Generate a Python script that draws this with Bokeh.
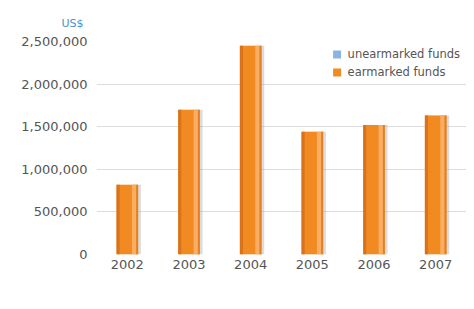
from bokeh.plotting import figure
from bokeh.models import ColumnDataSource, Legend, LegendItem, NumeralTickFormatter, FactorRange
from bokeh.transform import dodge
from bokeh.embed import file_html
from bokeh.resources import INLINE

years = ["2002", "2003", "2004", "2005", "2006", "2007"]
earmarked = [820000, 1700000, 2450000, 1440000, 1520000, 1630000]
unearmarked = [0, 0, 0, 0, 0, 0]
y_ticks = [0, 500000, 1000000, 1500000, 2000000, 2500000]

src = ColumnDataSource(dict(year=years, earmarked=earmarked, unearmarked=unearmarked))

p = figure(x_range=FactorRange(*years), y_range=(0, 2500000), width=466, height=309,
           output_backend="svg", toolbar_location=None,
           min_border_left=96, min_border_right=0, min_border_top=41, min_border_bottom=55)
p.outline_line_color = None
p.background_fill_color = "white"
p.border_fill_color = "white"

p.title.text = "US$"
p.title.align = "left"
p.title.offset = -35
p.title.standoff = 24
p.title.text_font = "DejaVu Sans"
p.title.text_font_size = "11px"
p.title.text_font_style = "normal"
p.title.text_color = "#4A90C8"

# shadow
p.vbar(x=dodge("year", 0.04, range=p.x_range), top="earmarked", width=0.36, source=src,
       fill_color="#9a9a9a", fill_alpha=0.35, line_color=None)
# base bar
r_e = p.vbar(x="year", top="earmarked", width=0.35, source=src,
             fill_color="#F28A22", line_color=None)
# darker left edge
p.vbar(x=dodge("year", -0.15, range=p.x_range), top="earmarked", width=0.05, source=src,
       fill_color="#D9721A", line_color=None)
# highlight stripe
p.vbar(x=dodge("year", 0.11, range=p.x_range), top="earmarked", width=0.07, source=src,
       fill_color="#F9AE63", line_color=None)
p.vbar(x=dodge("year", 0.16, range=p.x_range), top="earmarked", width=0.03, source=src,
       fill_color="#E57F22", line_color=None)
r_u = p.vbar(x="year", top="unearmarked", width=0.35, source=src,
             fill_color="#8AB4E3", line_color=None)

p.yaxis.ticker = y_ticks
p.yaxis.formatter = NumeralTickFormatter(format="0,0")
for ax in (p.xaxis, p.yaxis):
    ax.axis_line_color = None
    ax.major_tick_line_color = None
    ax.minor_tick_line_color = None
    ax.major_tick_out = 0
    ax.major_tick_in = 0
    ax.minor_tick_out = 0
    ax.major_label_text_font = "DejaVu Sans"
    ax.major_label_text_font_size = "13px"
    ax.major_label_text_color = "#555555"
p.yaxis.major_label_standoff = 9
p.xaxis.major_label_standoff = 5
p.xgrid.grid_line_color = None
p.ygrid.grid_line_color = "#dddddd"
p.ygrid.grid_line_width = 1

legend = Legend(items=[LegendItem(label="unearmarked funds", renderers=[r_u]),
                       LegendItem(label="earmarked funds", renderers=[r_e])],
                orientation="vertical", location="top_right",
                label_text_font="DejaVu Sans", label_text_font_size="11.5px",
                label_text_color="#555555", glyph_width=10, glyph_height=10,
                label_standoff=6, spacing=4, padding=4, margin=6,
                label_height=10,
                border_line_color=None, background_fill_color="white",
                background_fill_alpha=0.9)
p.add_layout(legend, "center")

open("out.html", "w").write(file_html(p, INLINE))
